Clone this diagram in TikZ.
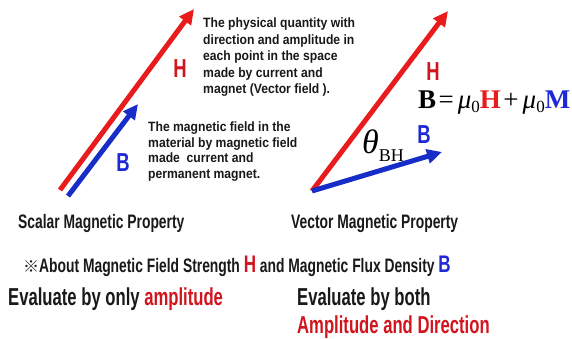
\documentclass[tikz,border=0pt]{standalone}
\usepackage{fontspec}
\usetikzlibrary{arrows.meta}
\newfontfamily\condS[FakeStretch=0.9]{Liberation Sans}
\newfontfamily\condM[FakeStretch=0.71]{Liberation Sans}
\newfontfamily\condL[FakeStretch=0.68]{Liberation Sans}
\newfontfamily\tms{Liberation Serif}
\newfontfamily\cjk{Noto Sans CJK JP}
\definecolor{hred}{RGB}{232,28,28}
\definecolor{bblue}{RGB}{22,45,200}
\definecolor{lred}{RGB}{210,20,30}
\definecolor{lblue}{RGB}{30,40,215}
\definecolor{txt}{RGB}{25,25,25}
\tikzset{
  harrow/.style={hred,line width=5pt,-{Triangle[length=15pt,width=14pt]}},
  barrow/.style={bblue,line width=5pt,-{Triangle[length=15pt,width=14pt]}},
  smallA/.style={font=\condS\bfseries\fontsize{13.5}{16.5}\selectfont,text=txt,align=left,inner sep=0pt},
  smallB/.style={font=\condS\bfseries\fontsize{13.5}{15.4}\selectfont,text=txt,align=left,inner sep=0pt},
  mid/.style={font=\condM\bfseries\fontsize{19.5}{22}\selectfont,text=txt,inner sep=0pt},
  big/.style={font=\condL\bfseries\fontsize{24.5}{28}\selectfont,text=txt,inner sep=0pt},
  lab/.style={font=\condM\bfseries\fontsize{26}{26}\selectfont,inner sep=0pt}
}
\begin{document}
\begin{tikzpicture}[x=1pt,y=-1pt]
\fill[white] (0,0) rectangle (572,338);
\useasboundingbox (0,0) rectangle (572,338);
% left arrows
\coordinate (lht) at (60,190);
\coordinate (lhh) at (194,9);
\coordinate (lbt) at (68,196);
\coordinate (lbh) at (138,104);
\draw[harrow] (lht) -- (lhh);
\draw[barrow] (lbt) -- (lbh);
\node[lab,text=lred] (lH) at (180,69) {H};
\node[lab,text=lblue] (lB) at (123,163) {B};
\node[smallA,anchor=north west] (t1) at (203,18) {The physical quantity with\\direction and amplitude in\\each point in the space\\made by current and\\magnet (Vector field ).};
\node[smallB,anchor=north west] (t2) at (148,122) {The magnetic field in the\\material by magnetic field\\made\ \ current and\\permanent magnet.};
% right arrows
\coordinate (rt) at (312,191);
\coordinate (rhh) at (448,11);
\coordinate (rbh) at (442,152);
\draw[harrow] (rt) -- (rhh);
\draw[barrow] (rt) -- (rbh);
\node[lab,text=lred] (rH) at (433,72) {H};
\node[lab,text=lblue] (rB) at (424,135) {B};
\node[inner sep=0pt,anchor=base west] (eq) at (418,108) {\tms\fontsize{27}{27}\selectfont\textbf{B}\hspace{2.5pt}=\hspace{4pt}\textit{μ}\raisebox{-4.5pt}{\fontsize{17}{17}\selectfont 0}\textbf{\textcolor{hred}{H}}\hspace{2.5pt}+\hspace{4pt}\textit{μ}\raisebox{-4.5pt}{\fontsize{17}{17}\selectfont 0}\textbf{\textcolor{lblue}{M}}};
\node[inner sep=0pt,anchor=base west] (th) at (362,153) {\tms\fontsize{34}{34}\selectfont\textit{θ}\raisebox{-8pt}{\fontsize{18}{18}\selectfont BH}};
% captions
\node[mid,anchor=base west] (sc) at (18,228) {Scalar Magnetic Property};
\node[mid,anchor=base west] (vc) at (291,228) {Vector Magnetic Property};
\node[mid,anchor=base west] (ab) at (23,272) {{\cjk\fontsize{16}{16}\selectfont ※}About Magnetic Field Strength {\fontsize{24}{24}\selectfont\textcolor{lred}{H}} and Magnetic Flux Density {\fontsize{24}{24}\selectfont\textcolor{lblue}{B}}};
\node[big,anchor=base west] (e1) at (8,305) {Evaluate by only \textcolor{lred}{amplitude}};
\node[big,anchor=base west] (e2) at (297,305) {Evaluate by both};
\node[big,anchor=base west,text=lred] (e3) at (297,333) {Amplitude and Direction};
\end{tikzpicture}
\end{document}
